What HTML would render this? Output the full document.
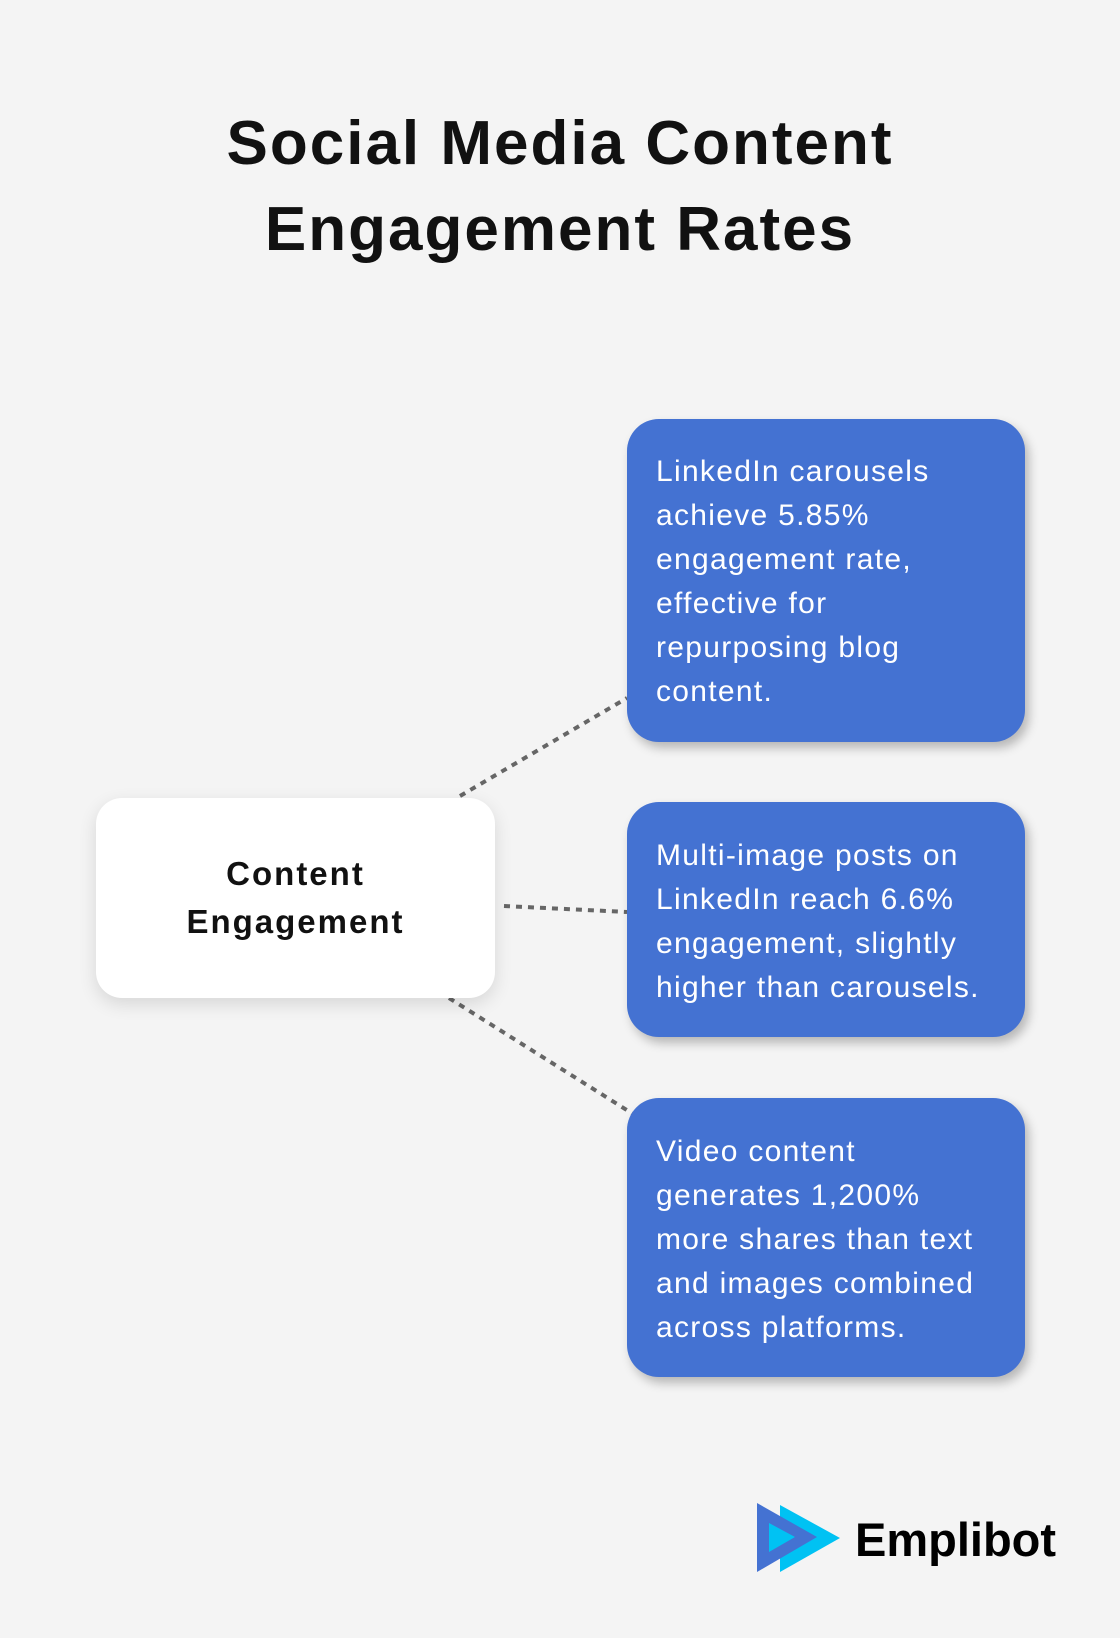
<!DOCTYPE html>
<html><head><meta charset="utf-8"><style>
body{margin:0;width:1120px;height:1638px;background:#f4f4f4;position:relative;overflow:hidden;font-family:"Liberation Sans",sans-serif}
.t{position:absolute;left:0;width:1120px;text-align:center;font-weight:bold;font-size:62px;color:#111;letter-spacing:2px}
.b{position:absolute;left:627px;width:398px;background:#4472d2;border-radius:32px;box-shadow:4px 6px 10px rgba(0,0,0,.25);color:#fff;font-size:30px;line-height:44px;padding-left:29px;box-sizing:border-box;letter-spacing:1.3px;white-space:nowrap}
.c{position:absolute;left:96px;top:798px;width:399px;height:200px;background:#fff;border-radius:26px;box-shadow:0 6px 18px rgba(0,0,0,.12);display:flex;align-items:center;justify-content:center;text-align:center;font-weight:bold;font-size:33px;line-height:48px;color:#111;letter-spacing:2px}
</style></head><body>
<div class="t" style="top:108px">Social Media Content</div>
<div class="t" style="top:194px">Engagement Rates</div>
<svg width="1120" height="1638" style="position:absolute;left:0;top:0">
<g stroke="#666" stroke-width="4" stroke-dasharray="6 6" fill="none">
<line x1="460" y1="796" x2="627" y2="698"/>
<line x1="504" y1="906" x2="627" y2="912"/>
<line x1="449" y1="998" x2="633" y2="1114"/>
</g>
<polygon points="780,1505 780,1572 840,1538" fill="#00c2f3"/>
<polygon points="757,1503 757,1572 817,1537" fill="#4472d2"/>
<polygon points="769,1523 769,1552 795,1537" fill="#00c2f3"/>
<text x="855" y="1556" font-family="Liberation Sans" font-weight="bold" font-size="47" fill="#000">Emplibot</text>
</svg>
<div class="c">Content<br>Engagement</div>
<div class="b" style="top:419px;height:323px;padding-top:31px">LinkedIn carousels<br>achieve 5.85%<br>engagement rate,<br>effective for<br>repurposing blog<br>content.</div>
<div class="b" style="top:802px;height:235px;padding-top:32px">Multi-image posts on<br>LinkedIn reach 6.6%<br>engagement, slightly<br>higher than carousels.</div>
<div class="b" style="top:1098px;height:279px;padding-top:32px">Video content<br>generates 1,200%<br>more shares than text<br>and images combined<br>across platforms.</div>
</body></html>
